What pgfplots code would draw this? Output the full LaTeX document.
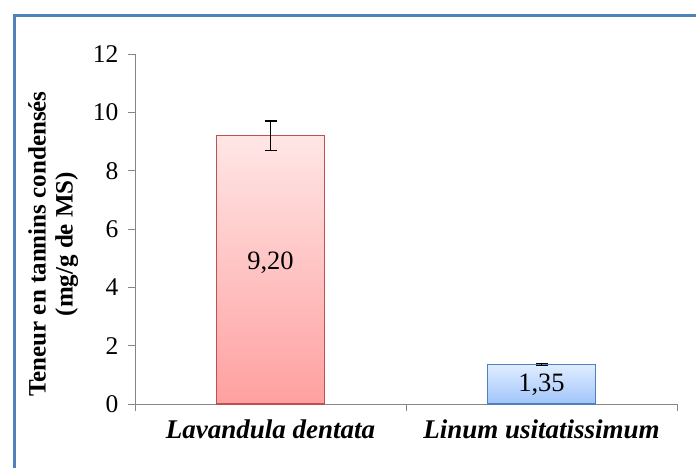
\documentclass[border=0pt]{standalone}
\usepackage{pgfplots}
\pgfplotsset{compat=1.18}
\usepackage{fontspec}
\setmainfont{Liberation Serif}
\definecolor{frameblue}{RGB}{79,129,189}
\definecolor{redtop}{RGB}{255,230,230}
\definecolor{redbot}{RGB}{255,160,160}
\definecolor{redline}{RGB}{192,80,77}
\definecolor{bluetop}{RGB}{224,237,255}
\definecolor{bluebot}{RGB}{160,196,250}
\definecolor{blueline}{RGB}{79,129,189}
\definecolor{axgray}{RGB}{134,134,134}
\begin{document}
\begin{tikzpicture}[x=1pt,y=1pt]
\useasboundingbox (0,0) rectangle (696,467);
\draw[frameblue, line width=3.5pt] (14.5,-5) -- (14.5,451.5) -- (700,451.5);
\begin{axis}[
  at={(135pt,63pt)}, anchor=south west,
  scale only axis, width=542pt, height=350pt,
  xmin=-0.5, xmax=1.5, ymin=0, ymax=12,
  axis lines*=left,
  axis line style={axgray, line width=1pt},
  tick style={axgray, line width=1pt},
  tick align=outside,
  major tick length=7pt,
  ytick={0,2,4,6,8,10,12},
  yticklabel={\pgfmathprintnumber[assume math mode=true]{\tick}},
  xtick={-0.5,0.5,1.5}, xticklabels={},
  extra x ticks={0,1},
  extra x tick labels={\textbf{\textit{Lavandula dentata}}, \textbf{\textit{Linum usitatissimum}}},
  extra x tick style={major tick length=0pt, xticklabel style={yshift=-12pt, font=\fontsize{27}{30}\selectfont}},
  /pgf/number format/assume math mode=true,
  tick label style={black},
  yticklabel style={xshift=-6pt, font=\fontsize{25.5}{30}\selectfont},
  ylabel={\fontsize{25}{27}\selectfont\bfseries\begin{tabular}{c}Teneur en tannins condensés\\(mg/g de MS)\end{tabular}},
  ylabel style={at={(axis description cs:-0.15,0.457)}, anchor=center, rotate=0},
  ybar, bar width=108pt, bar shift=0pt,
]
\addplot+[ybar, bar shift=0pt, draw=redline, line width=1.3pt, top color=redtop, bottom color=redbot,
  error bars/.cd, y dir=both, y explicit,
  error bar style={black, line width=1.3pt},
  error mark options={rotate=90, mark size=6pt, black, line width=1.3pt}]
  coordinates {(0,9.20) +- (0,0.50)};
\addplot+[ybar, bar shift=0pt, draw=blueline, line width=1.3pt, top color=bluetop, bottom color=bluebot,
  error bars/.cd, y dir=both, y explicit,
  error bar style={black, line width=1.3pt},
  error mark options={rotate=90, mark size=6pt, black, line width=1.3pt}]
  coordinates {(1,1.35) +- (0,0.04)};
\node[font=\fontsize{26.5}{30}\selectfont] at (axis cs:0,4.85) {9,20};
\node[font=\fontsize{26.5}{30}\selectfont] at (axis cs:1,0.65) {1,35};
\end{axis}
\end{tikzpicture}
\end{document}
